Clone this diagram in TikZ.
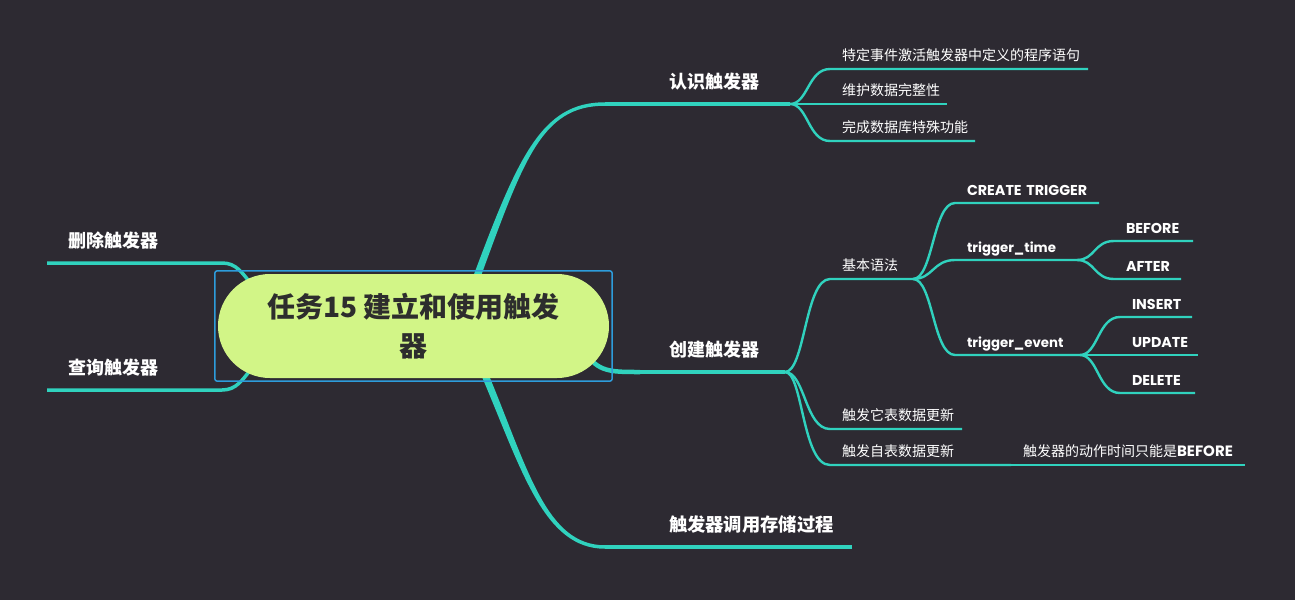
\documentclass[tikz,border=0pt]{standalone}
\usepackage{fontspec}
\setmainfont{Noto Sans CJK SC}
\newfontfamily\cjk{Noto Sans CJK SC}
\newfontfamily\lat{Poppins}
\usetikzlibrary{shapes.misc,fit}
\definecolor{bgc}{HTML}{2D2A32}
\definecolor{teal1}{HTML}{30D2BE}
\definecolor{lime1}{HTML}{D2F587}
\definecolor{blue1}{HTML}{2D9CDB}
\definecolor{dark1}{HTML}{2D2D2D}
\tikzset{
  conn/.style={draw=teal1, line width=2.4pt},
  mainconn/.style={draw=teal1, line width=3.5pt},
  topic/.style={anchor=south west, align=left, outer sep=0pt, inner xsep=12pt, text depth=0pt, text=white},
  t1/.style={topic, inner ysep=15.5pt, font=\cjk\bfseries\fontsize{18}{20}\selectfont},
  t2/.style={topic, inner ysep=9pt, font=\cjk\fontsize{14}{16}\selectfont},
  t3/.style={topic, inner ysep=8pt, font=\lat\bfseries\fontsize{13.3}{15}\selectfont},
  t3c/.style={topic, inner ysep=8pt, font=\lat\bfseries\fontsize{14.3}{16}\selectfont},
}
\begin{document}
\begin{tikzpicture}[x=1pt,y=-1pt]
\fill[bgc] (0,0) rectangle (1295,600);
\useasboundingbox (0,0) rectangle (1295,600);

% ---- nodes (text) ----
\node[t1, text width=109pt] (r1) at (657,104) {认识触发器};
\node[t1, text width=104pt] (r2) at (657,372) {创建触发器};
\node[topic, inner ysep=15.5pt, text width=171pt, font=\cjk\bfseries\fontsize{18.3}{20}\selectfont] (r3) at (657,547) {触发器调用存储过程};
\node[t1, inner xsep=21pt, text width=133pt] (l1) at (47,263) {删除触发器};
\node[t1, inner xsep=21pt, text width=133pt] (l2) at (47,390) {查询触发器};

\node[t2, text width=234pt] (a1) at (830,69) {特定事件激活触发器中定义的程序语句};
\node[t2, text width=93pt] (a2) at (830,104) {维护数据完整性};
\node[t2, text width=121pt] (a3) at (830,141) {完成数据库特殊功能};

\node[t2, text width=59pt] (b1) at (830,279) {基本语法};
\node[t2, text width=108pt] (b2) at (830,429) {触发它表数据更新};
\node[t2, text width=157pt] (b3) at (830,465) {触发自表数据更新};
\node[t2, inner xsep=6pt, text width=216pt] (f1) at (1017,465) {触发器的动作时间只能是{\lat\bfseries\fontsize{15}{16}\selectfont BEFORE}};

\node[t3c, text width=120pt] (c1) at (955,203) {\mbox{CREATE TRIGGER}};
\node[t3, text width=98pt] (c2) at (955,260) {trigger\_time};
\node[t3, text width=101pt] (c3) at (955,355) {trigger\_event};

\node[t3c, text width=55pt] (d1) at (1114,241) {\mbox{BEFORE}};
\node[t3c, text width=43pt] (d2) at (1114,279) {\mbox{AFTER}};
\node[t3c, text width=48pt] (e1) at (1120,317) {\mbox{INSERT}};
\node[t3c, text width=54pt] (e2) at (1120,355) {\mbox{UPDATE}};
\node[t3c, text width=51pt] (e3) at (1120,393) {\mbox{DELETE}};

% ---- main connectors ----
\coordinate (k1) at (605,104);
\coordinate (k2) at (640,372);
\coordinate (k3) at (605,547);
\fill[teal1] (468.5,289) .. controls (517,158.7) and (540,102.25) .. (605,102.25)
  -- (605,105.75) .. controls (540,105.75) and (523,161.3) .. (475.5,291) -- cycle;
\draw[mainconn] (k1) -- (r1.south west) -- (r1.south east);
\fill[teal1] (488.2,373.6) .. controls (528,469) and (546,545.25) .. (605,545.25)
  -- (605,548.75) .. controls (544,548.75) and (522,471) .. (481.8,376.4) -- cycle;
\draw[mainconn] (k3) -- (r3.south west) -- (r3.south east);
\draw[teal1, line width=4.5pt] (585,352) .. controls (598,372) and (610,372) .. (k2);
\draw[mainconn] (k2) -- (r2.south west) -- (r2.south east);
\draw[mainconn] (l1.south west) -- (l1.south east) .. controls (236,263) and (242,272) .. (254,288);
\draw[mainconn] (l2.south west) -- (l2.south east) .. controls (236,390) and (242,381) .. (254,365);

% ---- sub connectors ----
\draw[conn] (r1.south east) .. controls +(18,0) and +(-22,0) .. (a1.south west) -- (a1.south east);
\draw[conn] (r1.south east) -- (a2.south west) -- (a2.south east);
\draw[conn] (r1.south east) .. controls +(18,0) and +(-22,0) .. (a3.south west) -- (a3.south east);

\draw[conn] (r2.south east) .. controls +(20,0) and +(-25,0) .. (b1.south west) -- (b1.south east);
\draw[conn] (r2.south east) .. controls +(20,0) and +(-25,0) .. (b2.south west) -- (b2.south east);
\draw[conn] (r2.south east) .. controls +(18,0) and +(-28,0) .. (b3.south west) -- (b3.south east);
\draw[conn] (b3.south east) -- (f1.south west) -- (f1.south east);

\draw[conn] (b1.south east) .. controls +(20,0) and +(-22,0) .. (c1.south west) -- (c1.south east);
\draw[conn] (b1.south east) .. controls +(20,0) and +(-22,0) .. (c2.south west) -- (c2.south east);
\draw[conn] (b1.south east) .. controls +(20,0) and +(-22,0) .. (c3.south west) -- (c3.south east);

\draw[conn] (c2.south east) .. controls +(18,0) and +(-20,0) .. (d1.south west) -- (d1.south east);
\draw[conn] (c2.south east) .. controls +(18,0) and +(-20,0) .. (d2.south west) -- (d2.south east);
\draw[conn] (c3.south east) .. controls +(18,0) and +(-22,0) .. (e1.south west) -- (e1.south east);
\draw[conn] (c3.south east) -- (e2.south west) -- (e2.south east);
\draw[conn] (c3.south east) .. controls +(18,0) and +(-22,0) .. (e3.south west) -- (e3.south east);

% ---- central topic ----
\node[rounded rectangle, fill=lime1, minimum width=391pt, minimum height=104pt, inner sep=0pt,
      align=center, text=dark1, font=\cjk\bfseries\fontsize{28}{39}\selectfont] (c) at (413.5,326)
      {任务15 建立和使用触发\\器};
\node[draw=blue1, line width=1.5pt, rounded corners=2.5pt, fit=(c), inner sep=3pt] (sel) {};
\end{tikzpicture}
\end{document}
